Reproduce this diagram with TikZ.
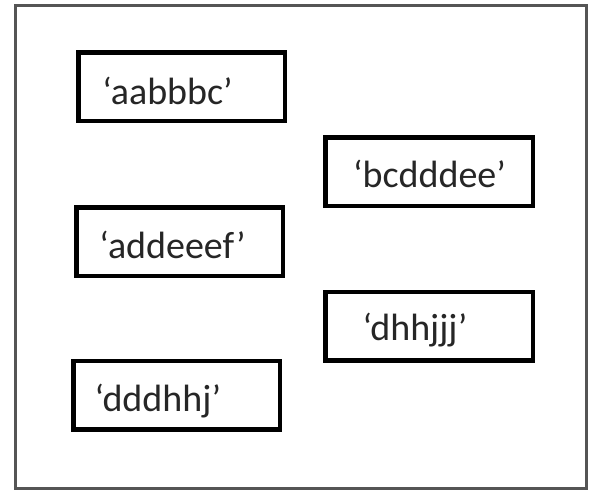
\documentclass[tikz,border=0pt]{standalone}
\usepackage{fontspec}
\setmainfont{Carlito}
\usetikzlibrary{shadows}
\definecolor{framegrey}{HTML}{555555}
\begin{document}
\begin{tikzpicture}[x=1pt,y=-1pt,
  frame/.style={draw=framegrey,line width=3pt},
  strbox/.style={draw=black,line width=4.5pt,fill=white,rectangle,inner sep=0pt,
    minimum width=#1-4.5pt,minimum height=68.5pt,
    drop shadow={opacity=0.25,shadow xshift=1pt,shadow yshift=-2.5pt}},
  strtext/.style={anchor=base,inner sep=0pt,font=\fontsize{38}{44}\selectfont,text=black!85}]
\useasboundingbox (0,0) rectangle (589,490);
\fill[white] (0,0) rectangle (589,490);
\draw[frame] (15,5) rectangle (586,488);
\node[strbox=211pt] (b1) at (181.5,86.5) {};
\node[strbox=212pt] (b2) at (429,171.5) {};
\node[strbox=211pt] (b3) at (179.5,241.5) {};
\node[strbox=212pt] (b4) at (429,326) {};
\node[strbox=211pt] (b5) at (176.5,395) {};
\node[strtext] (t1) at (167.5,104) {‘aabbbc’};
\node[strtext] (t2) at (429.5,187) {‘bcdddee’};
\node[strtext] (t3) at (172.5,258) {‘addeeef’};
\node[strtext] (t4) at (415,340) {‘dhhjjj’};
\node[strtext] (t5) at (158,411) {‘dddhhj’};
\end{tikzpicture}
\end{document}
